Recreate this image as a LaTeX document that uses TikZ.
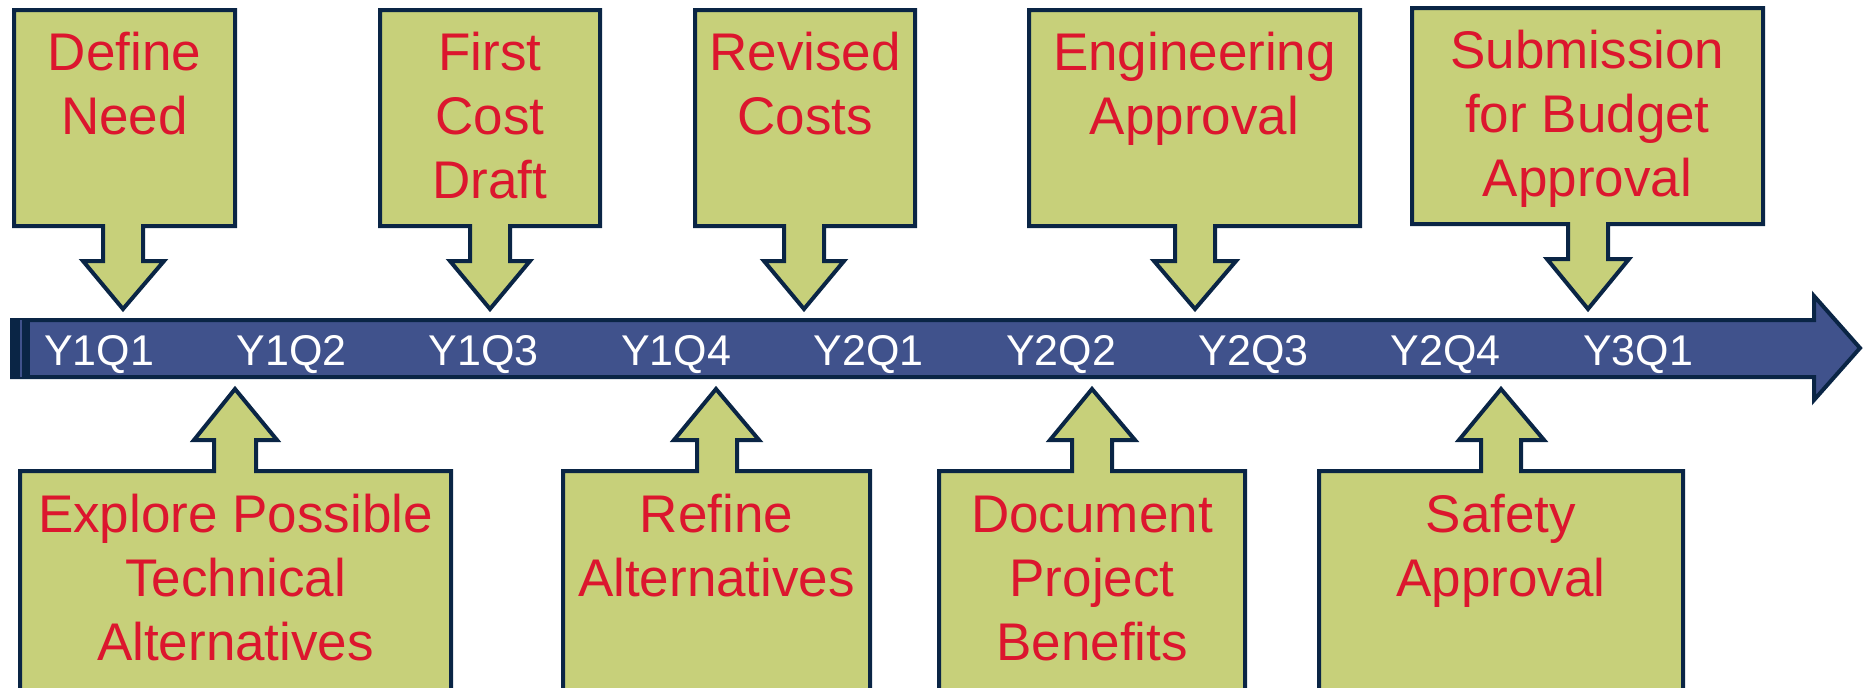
\documentclass[tikz,border=0pt]{standalone}
\usepackage{fontspec}
\setmainfont{Liberation Sans}
\usepackage{xcolor}
\definecolor{boxfill}{RGB}{199,208,122}
\definecolor{boxline}{RGB}{10,37,69}
\definecolor{barfill}{RGB}{64,82,140}
\definecolor{eventred}{RGB}{220,22,46}
\tikzstyle{callout} = [fill=boxfill, 
draw=boxline, 
line width=2pt]
\tikzstyle{bar} = [fill=barfill, 
draw=boxline, 
line width=2pt]
\tikzstyle{quarter} = [text=white, 
font=\fontsize{21.5}{26}\selectfont, 
inner sep=0pt]
\tikzstyle{event} = [text=eventred, 
font=\fontsize{26.5}{32}\selectfont, 
align=center, 
inner sep=0pt, 
anchor=north]

\begin{document}
\begin{tikzpicture}[x=0.5pt, y=-0.5pt, node distance=96.2pt]

    \useasboundingbox (0,0) rectangle (1864,687);

    % timeline
    \draw [bar] (12,320) -- (1814,320) -- (1814,296) -- (1860,348) -- (1814,400) -- (1814,377) -- (12,377) -- cycle;
    \fill [boxline] (10,318) rectangle (30,379);
    \draw [barfill, line width=0.6pt] (21,320) -- (21,377);

    \node (q1) [quarter, anchor=base] at (99,365) {Y1Q1};
    \node (q2) [quarter, right of=q1] {Y1Q2};
    \node (q3) [quarter, right of=q2] {Y1Q3};
    \node (q4) [quarter, right of=q3] {Y1Q4};
    \node (q5) [quarter, right of=q4] {Y2Q1};
    \node (q6) [quarter, right of=q5] {Y2Q2};
    \node (q7) [quarter, right of=q6] {Y2Q3};
    \node (q8) [quarter, right of=q7] {Y2Q4};
    \node (q9) [quarter, right of=q8] {Y3Q1};

    % callouts above
    \draw [callout] (14,10) -- (235,10) -- (235,226) -- (143,226) -- (143,261) -- (164,261) -- (123,309) -- (83,261) -- (103,261) -- (103,226) -- (14,226) -- cycle;
    \draw [callout] (380,10) -- (600,10) -- (600,226) -- (510,226) -- (510,261) -- (530,261) -- (490,309) -- (450,261) -- (470,261) -- (470,226) -- (380,226) -- cycle;
    \draw [callout] (695,10) -- (915,10) -- (915,226) -- (824,226) -- (824,261) -- (844,261) -- (804,309) -- (764,261) -- (784,261) -- (784,226) -- (695,226) -- cycle;
    \draw [callout] (1029,10) -- (1360,10) -- (1360,226) -- (1215,226) -- (1215,261) -- (1236,261) -- (1195,309) -- (1154,261) -- (1175,261) -- (1175,226) -- (1029,226) -- cycle;
    \draw [callout] (1412,8) -- (1763,8) -- (1763,224) -- (1608,224) -- (1608,259) -- (1629,259) -- (1588,309) -- (1547,259) -- (1568,259) -- (1568,224) -- (1412,224) -- cycle;

    % callouts below
    \draw [callout] (20,700) -- (20,471) -- (214,471) -- (214,440) -- (194,440) -- (235,389) -- (277,440) -- (256,440) -- (256,471) -- (451,471) -- (451,700) -- cycle;
    \draw [callout] (563,700) -- (563,471) -- (697,471) -- (697,440) -- (674,440) -- (716,389) -- (759,440) -- (737,440) -- (737,471) -- (870,471) -- (870,700) -- cycle;
    \draw [callout] (939,700) -- (939,471) -- (1072,471) -- (1072,440) -- (1050,440) -- (1092,389) -- (1135,440) -- (1112,440) -- (1112,471) -- (1245,471) -- (1245,700) -- cycle;
    \draw [callout] (1319,700) -- (1319,471) -- (1481,471) -- (1481,440) -- (1459,440) -- (1501,389) -- (1544,440) -- (1521,440) -- (1521,471) -- (1683,471) -- (1683,700) -- cycle;

    \node (need) [event] at (124.5,25) {\strut Define\\Need};
    \node (draft) [event] at (490,25) {\strut First\\Cost\\Draft};
    \node (revise) [event] at (805,25) {\strut Revised\\Costs};
    \node (engapp) [event] at (1194.5,25) {\strut Engineering\\Approval};
    \node (budget) [event] at (1587.5,23) {\strut Submission\\for Budget\\Approval};

    \node (explore) [event] at (235.5,487) {\strut Explore Possible\\Technical\\Alternatives};
    \node (refine) [event] at (716.5,487) {\strut Refine\\Alternatives};
    \node (benefit) [event] at (1092,487) {\strut Document\\Project\\Benefits};
    \node (safety) [event] at (1501,487) {\strut Safety\\Approval};

\end{tikzpicture}
\end{document}
